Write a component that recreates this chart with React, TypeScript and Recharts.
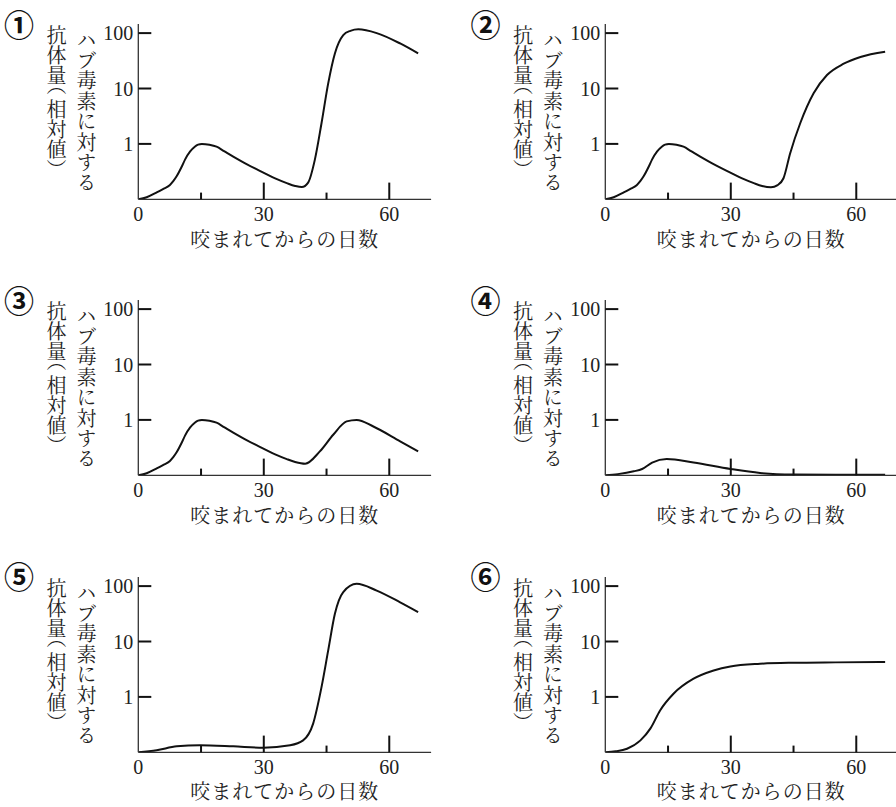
import React from "react";
import { LineChart, Line, XAxis, YAxis } from "recharts";

// panel markers and shared text
const panelMarks = ["①", "②", "③", "④", "⑤", "⑥"];
const xTicks = [0, 15, 30, 45, 60];
const xMajorTicks = [0, 30, 60];
const yTicks = [1, 10, 100];
const yLabelRight = "ハブ毒素に対する";
const yLabelLeft = ["抗体量", "（", "相対値", "）"];
const xLabel = "咬まれてからの日数";

// ① days / relative antibody amount
const days1 = [0, 2, 4.4, 5.9, 7.5, 8.4, 9.2, 10.4, 11.2, 12.4, 13.5, 14.3, 15.2, 17, 18.7, 20.5, 22.7, 26, 29.9, 33, 35.5, 37.5, 39.1, 40.6, 42.2, 43.8, 45.4, 47, 49, 50.7, 52.6, 57, 62.6, 66.9];
const values1 = [0.1, 0.109, 0.133, 0.153, 0.18, 0.215, 0.263, 0.39, 0.526, 0.73, 0.89, 0.97, 1.0, 0.966, 0.89, 0.74, 0.59, 0.427, 0.304, 0.234, 0.196, 0.174, 0.166, 0.2, 0.515, 2.36, 12.4, 43, 92, 110, 117, 100, 65, 43];

// ②
const days2 = [0, 2, 4.4, 5.9, 7.5, 8.4, 9.2, 10.4, 11.2, 12.4, 13.5, 14.3, 15.2, 17, 18.7, 20.5, 22.7, 26, 29.9, 33, 35.5, 37.5, 39.6, 41.2, 42.6, 44.2, 46.6, 49.8, 53, 57, 61, 66.9];
const values2 = [0.1, 0.109, 0.133, 0.153, 0.18, 0.215, 0.263, 0.39, 0.526, 0.73, 0.89, 0.97, 1.0, 0.966, 0.89, 0.74, 0.59, 0.427, 0.304, 0.234, 0.196, 0.174, 0.165, 0.18, 0.24, 0.68, 2.36, 8.2, 17.5, 28, 37, 46];

// ③
const days3 = [0, 2, 4.4, 5.9, 7.5, 8.4, 9.2, 10.4, 11.2, 12.4, 13.5, 14.3, 15.2, 17, 18.7, 20.5, 22.7, 26, 29.9, 33, 35.5, 37.5, 39.9, 43.4, 46.6, 49.8, 52.2, 56.2, 62.6, 66.9];
const values3 = [0.1, 0.109, 0.133, 0.153, 0.18, 0.215, 0.263, 0.39, 0.526, 0.73, 0.89, 0.97, 1.0, 0.966, 0.89, 0.74, 0.59, 0.427, 0.304, 0.234, 0.196, 0.174, 0.162, 0.27, 0.54, 0.94, 1.0, 0.76, 0.41, 0.27];

// ④
const days4 = [0, 3, 6.8, 8.8, 11.2, 14.7, 21.1, 29.9, 37, 45, 55, 66.9];
const values4 = [0.1, 0.105, 0.118, 0.13, 0.17, 0.197, 0.17, 0.13, 0.11, 0.103, 0.102, 0.102];

// ⑤
const days5 = [0, 4.4, 9.2, 14.7, 22.7, 29.9, 36.3, 39.4, 41.8, 43.8, 45.4, 47, 49, 52.2, 57, 62.6, 66.9];
const values5 = [0.1, 0.109, 0.128, 0.134, 0.128, 0.121, 0.134, 0.164, 0.33, 1.5, 6.9, 31.6, 78, 110, 83, 51, 34];

// ⑥
const days6 = [0, 2.5, 5.2, 8.4, 10.8, 13.1, 16.3, 21.1, 25.9, 29.9, 37, 45, 55, 66.9];
const values6 = [0.1, 0.104, 0.116, 0.164, 0.27, 0.57, 1.14, 2.13, 3.0, 3.55, 3.96, 4.13, 4.2, 4.25];

const series = [
  [days1, values1],
  [days2, values2],
  [days3, values3],
  [days4, values4],
  [days5, values5],
  [days6, values6],
];

const INK = "#222";
const AXIS = "#333";
const serif = "'Liberation Serif', 'Times New Roman', serif";
const cjk = "'Noto Serif CJK JP', 'Noto Sans CJK JP', sans-serif";

const PANEL_W = 448;
const PANEL_H = 270;
const DX = 466.5;
const DY = 276.3;

// tick marks point inward from the axis
function XTick(props: any) {
  const { x, y, payload } = props;
  const v = payload.value;
  const major = xMajorTicks.includes(v);
  const len = major ? 16.7 : 6.7;
  return (
    <g>
      {v !== 0 && <line x1={x} x2={x} y1={y} y2={y - len} stroke="#111" strokeWidth={2} />}
      {major && (
        <text x={x} y={y + 22} textAnchor="middle" fontFamily={serif} fontSize={20} fill={INK}>
          {String(v)}
        </text>
      )}
    </g>
  );
}

function YTick(props: any) {
  const { x, y, payload } = props;
  return (
    <g>
      <line x1={x} x2={x + 13} y1={y} y2={y} stroke="#111" strokeWidth={2} />
      <text x={x - 5} y={y + 7} textAnchor="end" fontFamily={serif} fontSize={20} fill={INK}>
        {String(payload.value)}
      </text>
    </g>
  );
}

function Panel({ index }: { index: number }) {
  const [days, values] = series[index];
  const data = days.map((d, i) => ({ day: d, v: values[i] }));
  const left = (index % 2) * DX;
  const top = Math.floor(index / 2) * DY;
  return (
    <div style={{ position: "absolute", left, top, width: PANEL_W, height: PANEL_H }}>
      <div
        style={{
          position: "absolute",
          left: 0,
          top: 0.5,
          width: 38,
          lineHeight: "normal",
          textAlign: "center",
          fontFamily: "'Noto Sans CJK JP', sans-serif",
          fontWeight: 700,
          fontSize: 30,
          color: "#111",
        }}
      >
        {panelMarks[index]}
      </div>
      <div
        style={{
          position: "absolute",
          left: 76,
          top: 30,
          width: 20,
          lineHeight: "20px",
          writingMode: "vertical-rl",
          fontFamily: cjk,
          fontSize: 20,
          letterSpacing: 0.4,
          color: INK,
        }}
      >
        {yLabelRight}
      </div>
      <div
        style={{
          position: "absolute",
          left: 46,
          top: 25,
          width: 20,
          lineHeight: "20px",
          writingMode: "vertical-rl",
          fontFamily: cjk,
          fontSize: 20,
          color: INK,
        }}
      >
        {yLabelLeft.map((s, i) => (
          <span
            key={i}
            style={i % 2 === 1 ? { fontFeatureSettings: '"vhal"', letterSpacing: 4 } : undefined}
          >
            {s}
          </span>
        ))}
      </div>
      <LineChart
        width={PANEL_W}
        height={PANEL_H}
        data={data}
        margin={{ top: 24, right: 16.9, bottom: 40.7, left: 78.3 }}
      >
        <XAxis
          dataKey="day"
          type="number"
          domain={[0, 70]}
          ticks={xTicks}
          interval={0}
          height={30}
          tickSize={0}
          tickMargin={0}
          tickLine={false}
          axisLine={{ stroke: AXIS, strokeWidth: 1.3 }}
          tick={XTick}
        />
        <YAxis
          type="number"
          scale="log"
          domain={[0.1, 146]}
          allowDataOverflow
          ticks={yTicks}
          interval={0}
          width={60}
          tickSize={0}
          tickMargin={0}
          tickLine={false}
          axisLine={{ stroke: AXIS, strokeWidth: 1.3 }}
          tick={YTick}
        />
        <Line
          type="monotone"
          dataKey="v"
          stroke="#111"
          strokeWidth={2}
          dot={false}
          isAnimationActive={false}
        />
      </LineChart>
      <div
        style={{
          position: "absolute",
          left: 138.3,
          top: 226.5,
          width: 292.8,
          lineHeight: "24px",
          textAlign: "center",
          fontFamily: cjk,
          fontSize: 20,
          letterSpacing: 1,
          color: INK,
          whiteSpace: "nowrap",
        }}
      >
        {xLabel}
      </div>
    </div>
  );
}

export default function App() {
  return (
    <div
      style={{
        position: "absolute",
        left: 0,
        top: 0,
        width: 896,
        height: 807,
        overflow: "hidden",
        background: "#fff",
      }}
    >
      {panelMarks.map((_, i) => (
        <Panel key={i} index={i} />
      ))}
    </div>
  );
}
